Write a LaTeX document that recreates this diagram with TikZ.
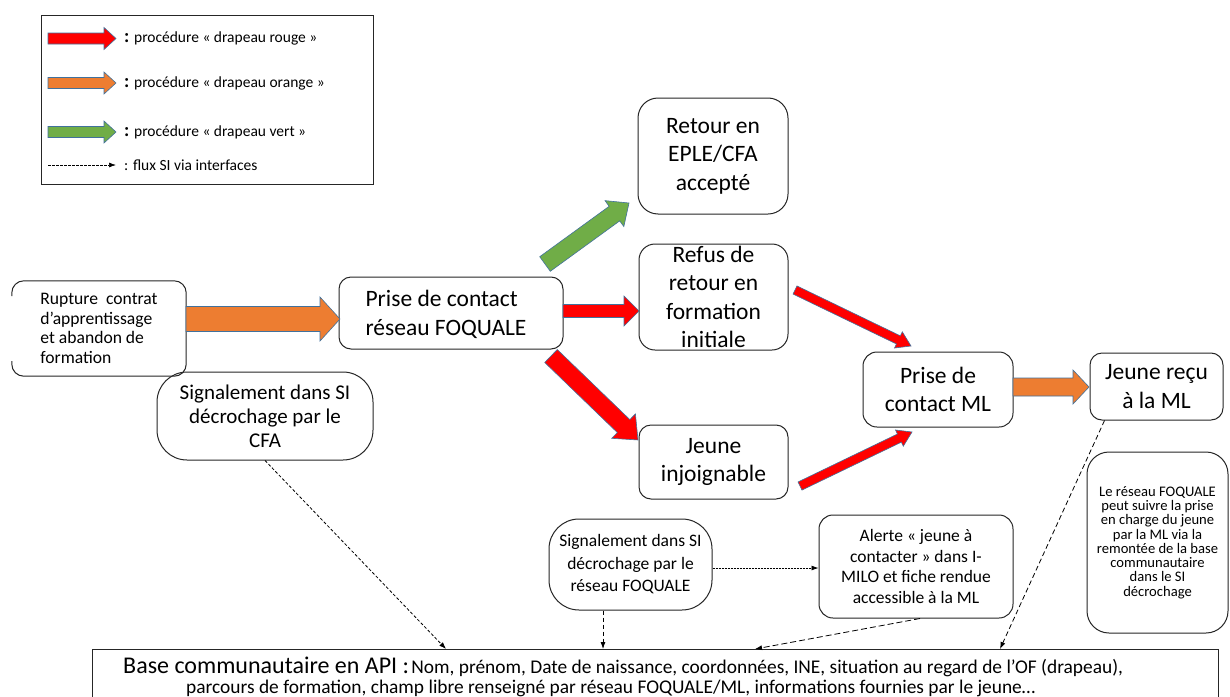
\documentclass[tikz,border=0pt]{standalone}
\usepackage{fontspec}
\setmainfont{Carlito}
\usetikzlibrary{calc,arrows.meta}
\definecolor{fred}{HTML}{FF0000}
\definecolor{forange}{HTML}{ED7D31}
\definecolor{fgreen}{HTML}{70AD47}
\definecolor{foutl}{HTML}{41719C}
\definecolor{fline}{HTML}{262626}
\newcommand\blockarrow[6]{%
  \filldraw[fill=#1, draw=foutl, line width=0.6pt, line join=miter]
   let \p1=(#2), \p2=(#3), \n1={atan2(\y2-\y1,\x2-\x1)}, \n2={veclen(\x2-\x1,\y2-\y1)} in
   [shift={(\p1)}, rotate=\n1]
   (0pt,{-#4*1pt}) -- ({(\n2-#6)*1pt},{-#4*1pt}) -- ({(\n2-#6)*1pt},{-#5*1pt})
   -- ({\n2*1pt},0pt) -- ({(\n2-#6)*1pt},{#5*1pt}) -- ({(\n2-#6)*1pt},{#4*1pt})
   -- (0pt,{#4*1pt}) -- cycle;}
\tikzset{
  box/.style={draw=fline, line width=1pt, rounded corners=#1, inner sep=0pt, align=center},
  box/.default=12pt,
  big/.style={font=\fontsize{23.5}{28.5}\selectfont},
  flux/.style={draw=black, line width=0.8pt, -{Latex[length=7pt,width=5pt]}},
  legtxt/.style={anchor=west, inner sep=0pt, font=\fontsize{15.5}{17}\selectfont},
}
\begin{document}
\begin{tikzpicture}[x=1pt,y=-1pt]
\useasboundingbox (0,0) rectangle (1230,696);
\fill[white] (0,0) rectangle (1230,696);
% legend
\node[draw=fline, line width=1pt, minimum width=332pt, minimum height=169pt, inner sep=0pt] (legend) at (207,99.5) {};
\coordinate (l1s) at (48,38.5); \coordinate (l1e) at (116,38.5);
\coordinate (l2s) at (48,83); \coordinate (l2e) at (116,83);
\coordinate (l3s) at (48,132); \coordinate (l3e) at (116,132);
\coordinate (l4s) at (48,165); \coordinate (l4e) at (116,165);
\blockarrow{fred}{l1s}{l1e}{5.5}{11}{12}
\blockarrow{forange}{l2s}{l2e}{5.5}{11}{12}
\blockarrow{fgreen}{l3s}{l3e}{5.5}{11}{12}
\draw[flux, line width=0.7pt, dash pattern=on 2.5pt off 1.5pt] (l4s) -- (l4e);
\node[legtxt] (t1) at (124,38.5) {{\fontsize{19}{19}\selectfont\bfseries :} procédure « drapeau rouge »};
\node[legtxt] (t2) at (124,83) {{\fontsize{19}{19}\selectfont\bfseries :} procédure « drapeau orange »};
\node[legtxt] (t3) at (124,132) {{\fontsize{19}{19}\selectfont\bfseries :} procédure « drapeau vert »};
\node[legtxt] (t4) at (124,165) {: flux SI via interfaces};
% boxes
\node[inner sep=0pt, minimum width=174pt, minimum height=95pt, align=left, font=\fontsize{17.6}{19.5}\selectfont] (rupt) at (99,328.5)
  {\raisebox{1.5pt}{}Rupture\ \ contrat\\d’apprentissage\\et abandon de\\formation};
\draw[fline, line width=1pt, rounded corners=12pt] (rupt.west |- 0,296) -- (rupt.north west) -- (rupt.north east)
  -- (rupt.south east) -- (rupt.south west) -- (rupt.west |- 0,361);
\node[box, big, minimum width=224pt, minimum height=72pt, align=left, text depth=0pt] (prise) at (451,313) {\hspace*{-10pt}Prise de contact\\\hspace*{-10pt}réseau FOQUALE};
\node[box=20pt, big, minimum width=150pt, minimum height=116pt] (retour) at (713,156) {Retour en\\EPLE/CFA\\accepté};
\node[box=16pt, big, minimum width=149pt, minimum height=106pt] (refus) at (713.5,297) {Refus de\\retour en\\formation\\initiale};
\node[box, big, minimum width=149pt, minimum height=74pt] (injoi) at (713.5,462) {Jeune\\injoignable};
\node[box=14pt, big, minimum width=150pt, minimum height=75pt] (ml) at (938,389.5) {Prise de\\contact ML};
\node[box, big, minimum width=133pt, minimum height=67pt] (recu) at (1156.5,386.5) {Jeune reçu\\à la ML};
\node[box=22pt, minimum width=141pt, minimum height=181pt, font=\fontsize{14.6}{14.3}\selectfont] (suivi) at (1157.5,542.5)
  {Le réseau FOQUALE\\peut suivre la prise\\en charge du jeune\\par la ML via la\\remontée de la base\\communautaire\\dans le SI\\décrochage};
\node[box=14pt, minimum width=194pt, minimum height=103pt, font=\fontsize{17.5}{20.8}\selectfont] (alerte) at (916,566.5)
  {Alerte « jeune à\\contacter » dans I-\\MILO et fiche rendue\\accessible à la ML};
\node[box=30pt, minimum width=163pt, minimum height=91pt, font=\fontsize{17.5}{22.5}\selectfont] (sigfoq) at (630.5,564.5)
  {Signalement dans SI\\décrochage par le\\réseau FOQUALE};
\node[box=30pt, minimum width=216pt, minimum height=88pt, font=\fontsize{21}{24.2}\selectfont] (sigcfa) at (265,416)
  {Signalement dans SI\\décrochage par le\\CFA};
\draw[fline, line width=1pt] (92,720) -- (92,649) -- (1218,649) -- (1218,720);
\coordinate (base) at (655,649);
\node[inner sep=0pt, anchor=base west] (basetxt1) at (123,673)
  {{\fontsize{24}{24}\selectfont Base communautaire en API :} {\fontsize{19.4}{20}\selectfont Nom, prénom, Date de naissance, coordonnées, INE, situation au regard de l’OF (drapeau),}};
\node[inner sep=0pt, anchor=base west, font=\fontsize{19.4}{20}\selectfont] (basetxt2) at (186,693.5)
  {parcours de formation, champ libre renseigné par réseau FOQUALE/ML, informations fournies par le jeune…};
% block arrows
\coordinate (o1s) at (186,319); \coordinate (o1e) at (340,319);
\blockarrow{forange}{o1s}{o1e}{12.5}{22}{20}
\coordinate (r1s) at (563,311); \coordinate (r1e) at (639,311);
\blockarrow{fred}{r1s}{r1e}{6.5}{15}{15}
\coordinate (r2s) at (551,356); \coordinate (r2e) at (638,440);
\blockarrow{fred}{r2s}{r2e}{9}{17}{20}
\coordinate (g1s) at (545,264); \coordinate (g1e) at (629,203);
\blockarrow{fgreen}{g1s}{g1e}{9}{16}{18}
\coordinate (r3s) at (795,290); \coordinate (r3e) at (911,346);
\blockarrow{fred}{r3s}{r3e}{4.5}{9}{14}
\coordinate (r4s) at (800,486); \coordinate (r4e) at (912,432);
\blockarrow{fred}{r4s}{r4e}{4.5}{9}{14}
\coordinate (o2s) at (1013,387); \coordinate (o2e) at (1089,387);
\blockarrow{forange}{o2s}{o2e}{9}{17}{16}
% dashed flux
\coordinate (b1) at (446,649); \coordinate (b2) at (603,649); \coordinate (b3) at (755,649); \coordinate (b4) at (1000,649);
\draw[flux, dash pattern=on 3pt off 2pt] (sigcfa.south) -- (b1);
\draw[flux, dash pattern=on 4pt off 3pt] (sigfoq.south -| b2) -- (b2);
\draw[flux, dash pattern=on 2pt off 1pt] (sigfoq.east |- 0,568) -- (alerte.west |- 0,568);
\draw[flux, dash pattern=on 6pt off 3pt] ($(alerte.south)+(4,0)$) -- (b3);
\draw[flux, dash pattern=on 5pt off 3pt] ($(recu.south)+(-52,0)$) -- (b4);
\end{tikzpicture}
\end{document}
